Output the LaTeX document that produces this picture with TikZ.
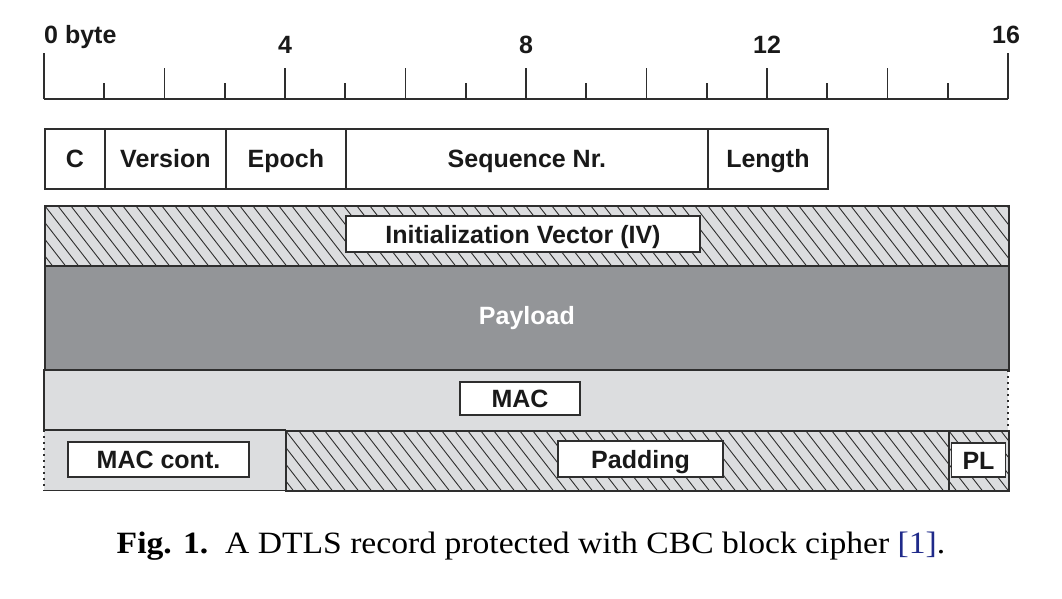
\documentclass[tikz,border=0pt]{standalone}
\usepackage{fontspec}
\usepackage{graphicx}
\setmainfont{Liberation Serif}
\newfontfamily\hv{Liberation Sans}
\definecolor{lgray}{HTML}{DCDDDF}
\definecolor{dgray}{HTML}{939598}
\definecolor{edge}{HTML}{2E2E2E}
\definecolor{refblue}{HTML}{1F2A8A}
\begin{document}
\begin{tikzpicture}[x=1pt,y=-1pt,
  lbl/.style={font=\hv\bfseries\fontsize{25}{30}\selectfont, text=black!90},
  field/.style={draw=edge, line width=1.8, fill=white, inner sep=0, lbl, text height=18, text depth=0, anchor=north west, minimum height=60},
  inbox/.style={draw=edge, line width=1.8, fill=white, inner sep=0, lbl, text height=18, text depth=0},
  region/.style={inner sep=0, anchor=north west, minimum height=60},
  hatch/.style={fill=lgray, path picture={\foreach \k in {-7,...,76} \draw[edge, line width=0.9] ([xshift=\k*13pt]path picture bounding box.north west) -- ++(56,72);}},
  solid edge/.style={draw=edge, line width=1.8},
  dotted edge/.style={draw=edge, line width=2, dash pattern=on 2pt off 4pt},
  tick/.style={draw=edge, line width=1.8},
  rulerlbl/.style={lbl, inner sep=0, anchor=base}
]
\useasboundingbox (0,0) rectangle (1062,598);

% ruler
\coordinate (r0) at (44,99);
\coordinate (r16) at (1008,99);
\draw[tick] (r0) -- (r16);
\foreach \i in {0,...,16}{
  \pgfmathsetmacro{\xx}{44+\i*60.25}
  \pgfmathsetmacro{\hh}{ifthenelse(\i==0||\i==16,46,ifthenelse(mod(\i,2)==0,31,16))}
  \draw[tick] (\xx,99) -- (\xx,99-\hh);
}
\node[rulerlbl, anchor=base west] (l0) at (44,43) {0 byte};
\node[rulerlbl] (l4) at (285,53) {4};
\node[rulerlbl] (l8) at (526,53) {8};
\node[rulerlbl] (l12) at (767,53) {12};
\node[rulerlbl] (l16) at (1006,43) {16};

% header fields
\node[field, minimum width=60.25] (c) at (44,128) {C};
\node[field, minimum width=120.5] (ver) at (104.25,128) {Version};
\node[field, minimum width=120.5] (ep) at (224.75,128) {Epoch};
\node[field, minimum width=361.5] (seq) at (345.25,128) {Sequence Nr.};
\node[field, minimum width=120.5] (len) at (706.75,128) {Length};

% IV row
\node[region, hatch, minimum width=964, solid edge] (ivrow) at (44,205) {};
\node[inbox, minimum width=354, minimum height=36] (iv) at (523,234) {Initialization Vector (IV)};

% payload
\node[region, fill=dgray, minimum width=964, minimum height=105, solid edge] (pay) at (44,265) {};
\node[lbl, text=white, inner sep=0] (payl) at (pay.center) {Payload};

% MAC row
\node[region, fill=lgray, minimum width=964] (macrow) at (44,370) {};
\draw[solid edge] (macrow.north east) -- (macrow.north west) -- (macrow.south west) -- (macrow.south east);
\draw[dotted edge] (macrow.north east) -- (macrow.south east);
\node[inbox, minimum width=120, minimum height=33] (mac) at (520,398.5) {MAC};

% bottom row
\node[region, fill=lgray, minimum width=241] (mcrow) at (44,430) {};
\draw[solid edge] (mcrow.north west) -- (mcrow.north east) -- (mcrow.south east) -- (mcrow.south west);
\draw[dotted edge] (mcrow.north west) -- (mcrow.south west);
\node[region, hatch, minimum width=663, solid edge] (padrow) at (285,430) {};
\node[region, hatch, minimum width=60, solid edge] (plrow) at (948,430) {};
\node[inbox, minimum width=181, minimum height=35] (mc) at (158.5,459.5) {MAC cont.};
\node[inbox, minimum width=165, minimum height=36] (pad) at (640.5,459) {Padding};
\node[inbox, minimum width=54, minimum height=34] (pl) at (978.5,460) {PL};

% caption
\node[inner sep=0, anchor=base, font=\fontsize{31}{36}\selectfont] (cap) at (531,553)
  {\scalebox{1.085}[1]{\textbf{Fig. 1.}\ \ A DTLS record protected with CBC block cipher {\color{refblue}[1]}.}};
\end{tikzpicture}
\end{document}
